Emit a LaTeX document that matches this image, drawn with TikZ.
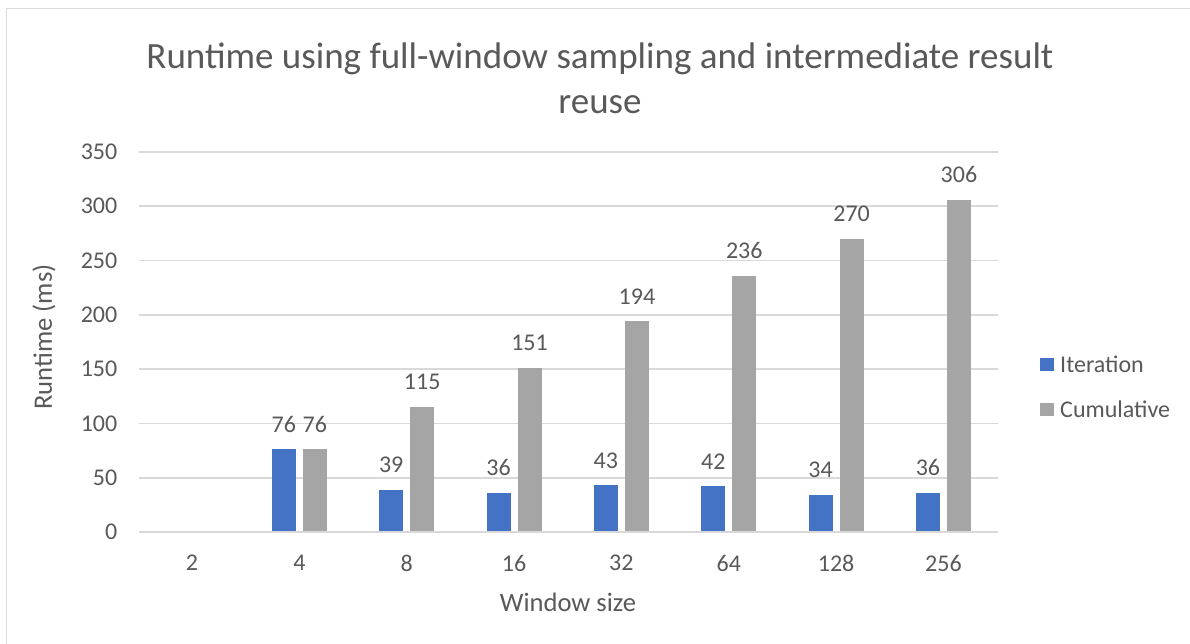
\documentclass[tikz,border=0pt]{standalone}
\usepackage{fontspec}
\setmainfont{Carlito}
\definecolor{txt}{HTML}{595959}
\definecolor{grid}{HTML}{D9D9D9}
\definecolor{iter}{HTML}{4472C4}
\definecolor{cumu}{HTML}{A5A5A5}
\tikzset{
  ticklbl/.style={text=txt,font=\fontsize{24}{28}\selectfont,inner sep=0pt},
  axtitle/.style={text=txt,font=\fontsize{26.6}{30}\selectfont,inner sep=0pt},
  datalbl/.style={text=txt,font=\fontsize{24}{28}\selectfont,inner sep=0pt},
  gridline/.style={draw=grid,line width=1.6pt},
  iterbar/.style={fill=iter},
  cumubar/.style={fill=cumu},
}
\begin{document}
\begin{tikzpicture}[x=1pt,y=-1pt]
\useasboundingbox (0,0) rectangle (1190,644);
\fill[white] (0,0) rectangle (1190,644);
% outer frame
\draw[draw=grid,line width=1.5pt] (6.5,644) -- (6.5,8.5) -- (1190,8.5);
% title
\node[text=txt,font=\fontsize{37}{45}\selectfont,align=center,inner sep=0pt] (title) at (600,78)
  {Runtime using full-window sampling and intermediate result\\reuse};
% gridlines and y ticks
\foreach \v in {0,50,...,350}{
  \pgfmathsetmacro{\yy}{532-\v*1.085714}
  \draw[gridline] (138.5,\yy) -- (998,\yy);
  \node[ticklbl,anchor=east] (yt\v) at (117.5,\yy) {\v};
}
% bars
\foreach \iv/\cv/\lab [count=\i from 0] in {0/0/2,76/76/4,39/115/8,36/151/16,43/194/32,42/236/64,34/270/128,36/306/256}{
  \pgfmathsetmacro{\xc}{192+107.35*\i}
  \pgfmathsetmacro{\yi}{532-\iv*1.085714}
  \pgfmathsetmacro{\yc}{532-\cv*1.085714}
  \node[ticklbl] (xt\i) at (\xc,563) {\lab};
  \ifnum\iv>0
    \fill[iterbar] (\xc-27.5,\yi) rectangle (\xc-3.5,531);
    \fill[cumubar] (\xc+3.5,\yc) rectangle (\xc+27.5,531);
    \node[datalbl] (di\i) at (\xc-15.5,\yi-25) {\iv};
    \node[datalbl] (dc\i) at (\xc+15.5,\yc-25) {\cv};
  \fi
}
% axis titles
\node[axtitle] (xtitle) at (568,602) {Window size};
\node[axtitle,rotate=90] (ytitle) at (44,337) {Runtime (ms)};
% legend
\fill[iter] (1040,357.5) rectangle (1054,371);
\node[ticklbl,anchor=west] (lg1) at (1060,364) {Iteration};
\fill[cumu] (1040,402.5) rectangle (1054,416);
\node[ticklbl,anchor=west] (lg2) at (1060,409) {Cumulative};
\end{tikzpicture}
\end{document}
